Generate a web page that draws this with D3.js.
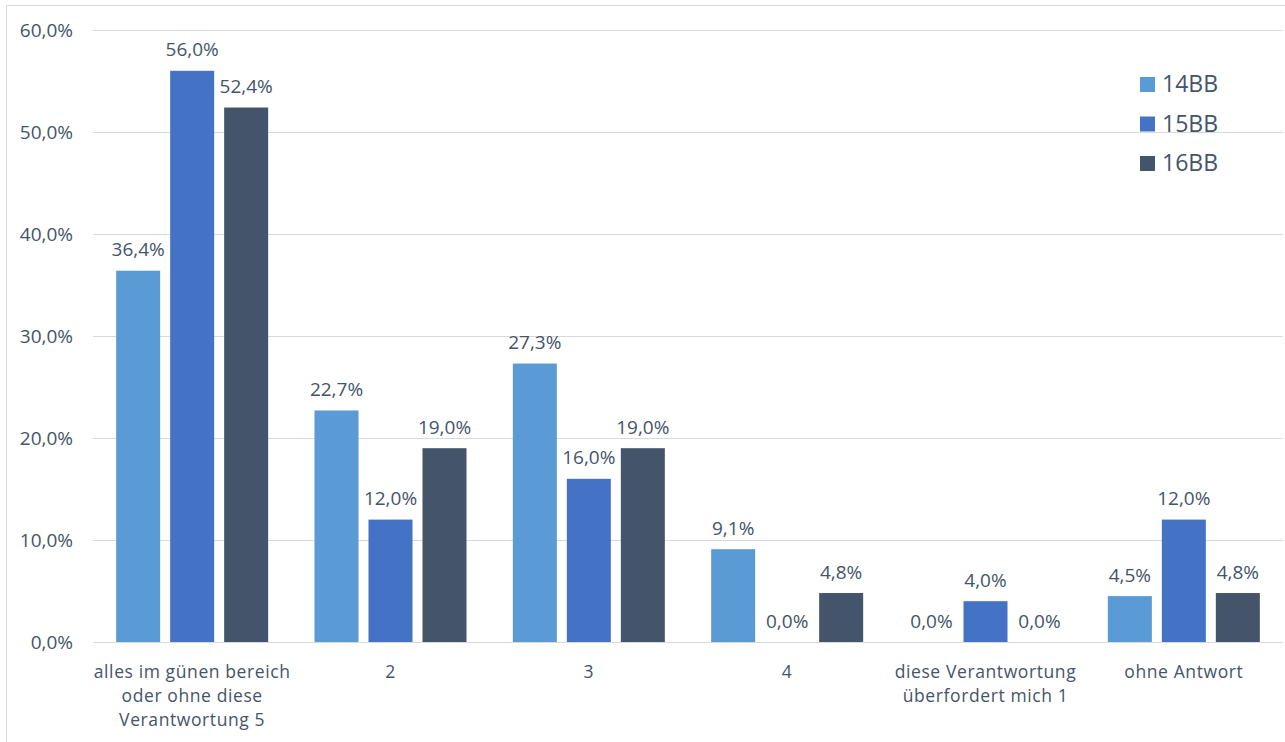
<!DOCTYPE html>
<html>
<head>
<meta charset="utf-8">
<script src="https://cdn.jsdelivr.net/npm/d3@7"></script>
<style>
  body { margin: 0; background: #fff; }
  svg { display: block; font-family: "Open Sans", sans-serif; }
</style>
</head>
<body>
<svg id="chart"></svg>
<script>
const categories = [
    ["alles im günen bereich", "oder ohne diese", "Verantwortung 5"],
    ["2"],
    ["3"],
    ["4"],
    ["diese Verantwortung", "überfordert mich 1"],
    ["ohne Antwort"]
];
const seriesNames = ["14BB", "15BB", "16BB"];
const values14 = [36.4, 22.7, 27.3, 9.1, 0.0, 4.5];
const values15 = [56.0, 12.0, 16.0, 0.0, 4.0, 12.0];
const values16 = [52.4, 19.0, 19.0, 4.8, 0.0, 4.8];
const colors = ["#5B9BD5", "#4472C4", "#44546A"];
const yTicks = [0, 10, 20, 30, 40, 50, 60];

const width = 1285;
const height = 742;
const marginTop = 30;
const marginRight = 2;
const marginBottom = 100;
const marginLeft = 93;
const textColor = "#44546A";
const fontSize = "19px";

const allSeries = [values14, values15, values16];
const data = categories.map((c, i) => ({
    idx: i,
    label: c,
    vals: seriesNames.map((s, j) => ({ series: s, j, value: allSeries[j][i] }))
}));

const fmt = v => v.toFixed(1).replace(".", ",") + "%";

const svg = d3.select("#chart")
    .attr("width", width)
    .attr("height", height);

// chart border
svg.append("rect")
    .attr("x", 6.5).attr("y", 5.5)
    .attr("width", 1400).attr("height", 900)
    .attr("fill", "none")
    .attr("stroke", "#D9D9D9");

const x0 = d3.scaleBand()
    .domain(data.map(d => d.idx))
    .range([marginLeft, width - marginRight])
    .paddingInner(0)
    .paddingOuter(0);

const groupW = 152;
const x1 = d3.scaleBand()
    .domain(seriesNames)
    .range([(x0.bandwidth() - groupW) / 2, (x0.bandwidth() + groupW) / 2])
    .paddingInner(0.185);

const y = d3.scaleLinear()
    .domain([0, 60])
    .range([height - marginBottom, marginTop]);

// gridlines
svg.append("g")
    .selectAll("line")
    .data(yTicks)
    .join("line")
    .attr("x1", marginLeft)
    .attr("x2", width - marginRight)
    .attr("y1", d => Math.round(y(d)) + 0.5)
    .attr("y2", d => Math.round(y(d)) + 0.5)
    .attr("stroke", "#D9D9D9")
    .attr("stroke-width", 1);

// y axis labels
svg.append("g")
    .selectAll("text")
    .data(yTicks)
    .join("text")
    .attr("x", 73)
    .attr("y", d => y(d))
    .attr("dy", "0.35em")
    .attr("text-anchor", "end")
    .attr("fill", textColor)
    .style("font-size", fontSize)
    .text(d => fmt(d));

// bars
const groups = svg.append("g")
    .selectAll("g")
    .data(data)
    .join("g")
    .attr("transform", d => `translate(${x0(d.idx)},0)`);

groups.selectAll("rect")
    .data(d => d.vals)
    .join("rect")
    .attr("x", d => x1(d.series))
    .attr("y", d => y(d.value))
    .attr("width", x1.bandwidth())
    .attr("height", d => y(0) - y(d.value))
    .attr("fill", d => colors[d.j]);

groups.selectAll("text.val")
    .data(d => d.vals)
    .join("text")
    .attr("class", "val")
    .attr("x", d => x1(d.series) + x1.bandwidth() / 2)
    .attr("y", d => y(d.value) - 21)
    .attr("dy", "0.35em")
    .attr("text-anchor", "middle")
    .attr("fill", textColor)
    .style("font-size", fontSize)
    .text(d => fmt(d.value));

// category labels
groups.append("text")
    .attr("x", x0.bandwidth() / 2)
    .attr("y", 672)
    .attr("text-anchor", "middle")
    .attr("fill", textColor)
    .style("font-size", "17.5px")
    .style("letter-spacing", "0.6px")
    .selectAll("tspan")
    .data(d => d.label)
    .join("tspan")
    .attr("x", x0.bandwidth() / 2)
    .attr("dy", (d, i) => i === 0 ? "0.35em" : "24px")
    .text(d => d);

// legend
const legend = svg.append("g")
    .selectAll("g")
    .data(seriesNames)
    .join("g")
    .attr("transform", (d, i) => `translate(1140,${84 + i * 39.5})`);

legend.append("rect")
    .attr("x", 0).attr("y", -7)
    .attr("width", 15).attr("height", 15)
    .attr("fill", (d, i) => colors[i]);

legend.append("text")
    .attr("x", 22)
    .attr("y", 0)
    .attr("dy", "0.35em")
    .attr("fill", textColor)
    .style("font-size", "23px")
    .text(d => d);
</script>
</body>
</html>
